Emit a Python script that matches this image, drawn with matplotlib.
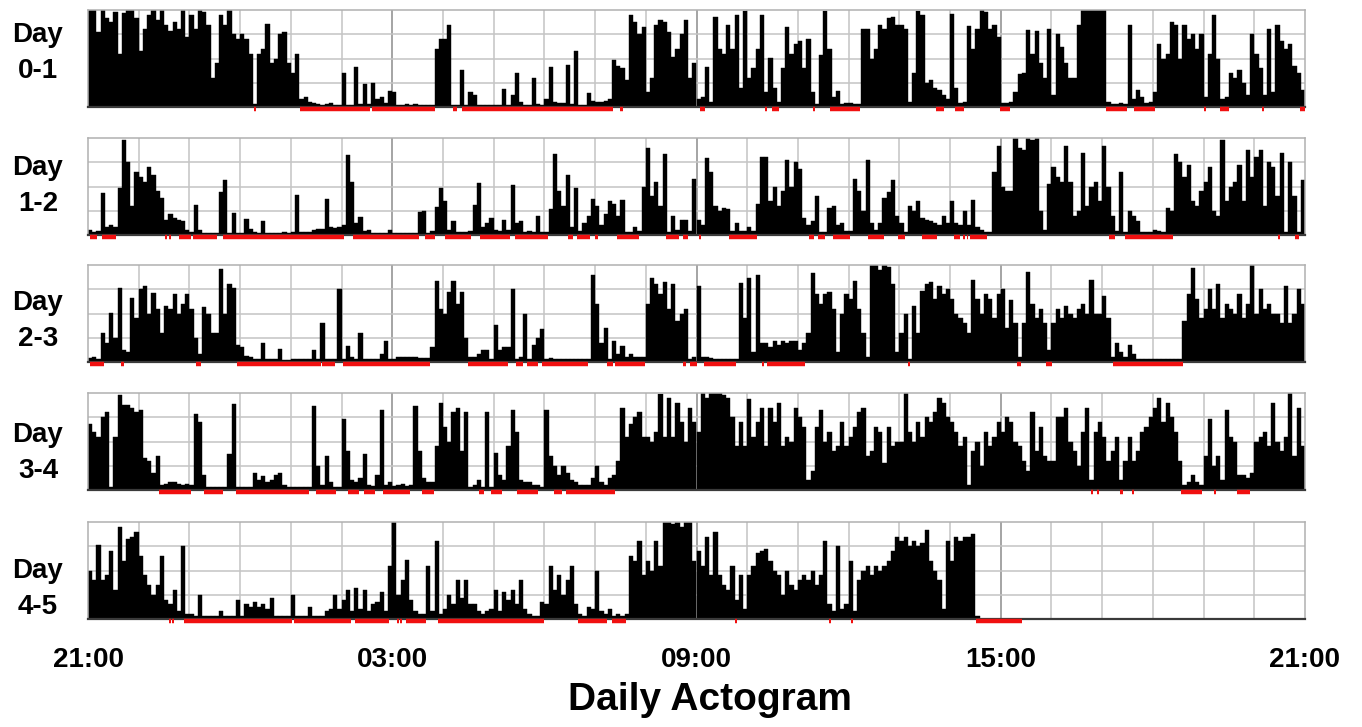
import matplotlib
matplotlib.use('Agg')
import matplotlib.pyplot as plt
import numpy as np

plt.rcParams['font.family'] = ['Liberation Sans', 'DejaVu Sans']

# activity counts in 5-minute bins (percent of full scale), starting at 21:00
day01 = [
    100, 100, 77, 100, 92, 88, 98, 55, 97, 100, 100, 92,
    58, 80, 95, 100, 90, 100, 85, 78, 88, 80, 100, 72,
    95, 80, 100, 98, 85, 30, 45, 95, 85, 100, 75, 70,
    75, 70, 55, 3, 55, 60, 86, 45, 50, 75, 77, 45,
    35, 55, 8, 10, 5, 4, 3, 2, 3, 4, 2, 2,
    35, 2, 2, 41, 3, 24, 3, 25, 8, 10, 4, 17,
    15, 2, 2, 3, 2, 3, 2, 2, 2, 2, 60, 70,
    70, 85, 2, 2, 38, 2, 15, 12, 2, 2, 2, 2,
    2, 2, 19, 2, 12, 35, 5, 2, 2, 30, 3, 2,
    8, 41, 5, 4, 4, 43, 3, 58, 2, 2, 14, 6,
    5, 5, 6, 8, 48, 42, 40, 28, 95, 88, 75, 82,
    15, 30, 85, 90, 88, 77, 52, 60, 75, 90, 30, 45,
    8, 10, 41, 5, 93, 60, 55, 85, 60, 95, 20, 99,
    30, 40, 60, 95, 15, 51, 20, 5, 40, 82, 55, 65,
    68, 40, 70, 15, 3, 54, 99, 60, 10, 17, 3, 4,
    4, 3, 3, 80, 80, 50, 60, 85, 80, 92, 93, 85,
    85, 80, 5, 35, 99, 95, 25, 28, 20, 18, 12, 8,
    96, 20, 4, 5, 84, 60, 80, 100, 98, 80, 85, 72,
    4, 4, 5, 15, 34, 35, 79, 55, 78, 45, 30, 80,
    12, 75, 62, 45, 30, 30, 85, 100, 100, 100, 100, 100,
    100, 5, 3, 3, 4, 3, 85, 8, 18, 10, 4, 5,
    15, 65, 50, 55, 88, 85, 50, 85, 70, 75, 60, 75,
    10, 55, 95, 50, 8, 10, 35, 30, 38, 25, 12, 75,
    55, 40, 12, 80, 15, 85, 68, 60, 65, 42, 35, 18,
]
day12 = [
    5, 3, 4, 43, 8, 10, 8, 48, 98, 75, 30, 65,
    60, 55, 70, 62, 45, 38, 15, 22, 18, 15, 14, 5,
    3, 31, 5, 2, 2, 2, 2, 44, 57, 2, 23, 2,
    2, 16, 6, 3, 2, 14, 2, 2, 2, 2, 3, 2,
    3, 41, 3, 3, 3, 5, 6, 6, 37, 8, 7, 8,
    10, 82, 55, 12, 19, 4, 5, 2, 2, 2, 2, 5,
    2, 2, 2, 2, 2, 2, 24, 25, 2, 4, 29, 48,
    35, 5, 14, 3, 3, 3, 4, 31, 54, 8, 12, 18,
    5, 4, 15, 5, 52, 12, 14, 3, 4, 3, 20, 3,
    3, 27, 84, 45, 30, 62, 8, 48, 4, 12, 20, 37,
    30, 10, 22, 35, 32, 20, 36, 3, 3, 8, 4, 50,
    90, 40, 55, 30, 83, 3, 20, 5, 15, 15, 4, 58,
    15, 10, 79, 65, 30, 25, 28, 27, 4, 12, 4, 4,
    8, 4, 32, 80, 80, 35, 50, 30, 45, 77, 50, 75,
    68, 18, 10, 14, 40, 3, 3, 28, 30, 10, 12, 4,
    4, 58, 45, 25, 77, 12, 5, 12, 38, 44, 57, 20,
    12, 3, 30, 25, 35, 18, 15, 14, 12, 10, 20, 12,
    35, 12, 10, 25, 10, 36, 8, 5, 3, 3, 65, 92,
    50, 45, 45, 100, 90, 88, 100, 98, 100, 25, 5, 53,
    70, 60, 55, 92, 55, 20, 25, 85, 30, 50, 55, 35,
    92, 50, 20, 4, 65, 3, 25, 20, 14, 3, 3, 3,
    5, 4, 3, 28, 25, 83, 75, 60, 72, 35, 30, 45,
    55, 70, 25, 20, 98, 35, 50, 55, 72, 35, 88, 60,
    80, 88, 30, 75, 70, 40, 85, 3, 75, 40, 3, 57,
]
day23 = [
    4, 5, 3, 30, 20, 51, 25, 76, 12, 10, 66, 45,
    75, 78, 50, 71, 55, 30, 58, 55, 70, 50, 60, 70,
    55, 25, 8, 57, 50, 30, 30, 96, 50, 80, 76, 18,
    15, 6, 5, 3, 3, 20, 3, 3, 3, 13, 2, 2,
    3, 3, 3, 3, 3, 12, 3, 40, 3, 3, 3, 75,
    3, 16, 5, 3, 30, 3, 3, 3, 3, 8, 22, 3,
    3, 5, 5, 5, 5, 5, 4, 4, 4, 15, 84, 55,
    50, 72, 83, 60, 72, 25, 5, 5, 8, 12, 12, 3,
    38, 12, 15, 15, 75, 3, 5, 50, 3, 18, 25, 34,
    3, 4, 3, 3, 3, 3, 3, 3, 3, 3, 3, 90,
    60, 20, 35, 3, 22, 8, 16, 5, 8, 5, 5, 5,
    60, 87, 80, 70, 82, 55, 80, 42, 50, 55, 3, 5,
    78, 5, 5, 4, 3, 3, 3, 3, 3, 3, 81, 45,
    87, 10, 90, 20, 20, 15, 22, 18, 22, 20, 22, 22,
    12, 20, 30, 92, 70, 60, 70, 72, 55, 10, 50, 70,
    65, 84, 55, 30, 5, 100, 100, 95, 100, 98, 80, 10,
    30, 50, 3, 58, 30, 73, 80, 82, 65, 78, 70, 75,
    65, 50, 45, 40, 30, 85, 65, 50, 70, 65, 45, 70,
    75, 35, 64, 40, 5, 40, 93, 60, 45, 55, 40, 12,
    40, 55, 45, 58, 50, 45, 55, 60, 50, 85, 50, 50,
    68, 45, 5, 20, 10, 5, 18, 8, 3, 3, 3, 3,
    3, 3, 3, 3, 3, 3, 3, 42, 70, 97, 65, 45,
    55, 75, 55, 80, 45, 60, 55, 50, 70, 45, 60, 100,
    50, 75, 55, 60, 50, 50, 40, 78, 40, 50, 75, 60,
]
day34 = [
    68, 60, 55, 75, 80, 3, 55, 98, 88, 88, 85, 80,
    82, 33, 30, 18, 35, 5, 6, 8, 8, 6, 5, 6,
    5, 78, 70, 15, 3, 3, 3, 3, 3, 37, 89, 3,
    3, 3, 3, 18, 10, 14, 8, 10, 15, 18, 5, 3,
    3, 3, 3, 3, 3, 87, 25, 5, 35, 8, 3, 3,
    73, 40, 10, 8, 12, 37, 5, 4, 15, 82, 5, 8,
    4, 5, 6, 4, 5, 87, 40, 12, 8, 8, 45, 90,
    65, 50, 80, 85, 40, 80, 3, 5, 10, 3, 80, 3,
    38, 15, 10, 45, 82, 60, 10, 8, 8, 5, 5, 3,
    82, 35, 25, 15, 25, 18, 10, 8, 5, 5, 5, 12,
    25, 8, 5, 12, 15, 30, 85, 55, 68, 75, 80, 55,
    55, 50, 60, 99, 55, 95, 55, 90, 70, 50, 85, 70,
    60, 100, 95, 100, 100, 100, 98, 95, 75, 45, 70, 45,
    94, 55, 70, 85, 45, 85, 70, 90, 45, 55, 50, 85,
    75, 65, 10, 20, 65, 82, 50, 60, 40, 45, 70, 45,
    55, 65, 80, 85, 35, 40, 65, 60, 28, 65, 45, 50,
    50, 100, 60, 50, 70, 55, 75, 70, 80, 95, 90, 75,
    70, 60, 45, 55, 5, 40, 50, 25, 60, 45, 55, 70,
    60, 75, 70, 50, 45, 30, 20, 80, 40, 65, 35, 30,
    30, 75, 75, 85, 50, 40, 25, 60, 85, 10, 60, 70,
    55, 30, 40, 55, 10, 30, 55, 30, 40, 60, 65, 75,
    85, 95, 70, 90, 75, 60, 30, 5, 8, 15, 8, 5,
    35, 73, 25, 35, 10, 82, 55, 50, 15, 15, 12, 18,
    50, 55, 60, 45, 90, 50, 40, 55, 100, 35, 85, 45,
]
day45 = [
    50, 40, 76, 40, 45, 70, 30, 95, 60, 82, 85, 90,
    65, 45, 35, 25, 35, 65, 20, 15, 30, 8, 75, 5,
    5, 3, 25, 3, 3, 3, 3, 8, 3, 3, 3, 20,
    3, 15, 12, 18, 12, 15, 10, 22, 3, 3, 3, 3,
    25, 3, 3, 3, 12, 3, 3, 3, 8, 10, 25, 10,
    20, 30, 8, 32, 10, 30, 8, 15, 18, 28, 8, 55,
    100, 25, 40, 61, 20, 8, 5, 5, 55, 8, 80, 5,
    10, 25, 15, 40, 22, 40, 15, 15, 8, 5, 8, 10,
    30, 8, 28, 20, 30, 15, 40, 10, 5, 3, 3, 18,
    15, 55, 30, 45, 25, 40, 55, 15, 5, 3, 12, 10,
    50, 8, 5, 10, 3, 5, 3, 5, 65, 60, 80, 45,
    60, 50, 80, 55, 100, 100, 98, 100, 95, 100, 100, 60,
    70, 55, 85, 45, 90, 45, 35, 30, 55, 20, 45, 10,
    45, 55, 68, 70, 72, 60, 50, 45, 25, 50, 35, 30,
    40, 45, 40, 50, 35, 45, 80, 15, 8, 75, 10, 15,
    60, 8, 40, 50, 55, 45, 55, 50, 55, 60, 70, 85,
    80, 85, 75, 80, 75, 78, 92, 60, 50, 40, 10, 80,
    60, 85, 80, 85, 85, 88, 3,
]

# rest periods (hours after 21:00)
rest01 = [(3.27, 3.31), (4.18, 5.56), (5.6, 6.85), (7.2, 7.27), (7.37, 10.36),
          (10.5, 10.56), (12.07, 12.17), (13.35, 13.4), (13.48, 13.62),
          (14.29, 14.33), (14.64, 15.23), (16.72, 16.88), (17.1, 17.28),
          (17.99, 18.19), (20.08, 20.49), (20.63, 21.05), (22.0, 22.05),
          (22.32, 22.5), (23.15, 23.19), (23.9, 24.0)]
rest12 = [(0.03, 0.17), (0.28, 0.55), (1.52, 1.56), (1.6, 1.63), (1.8, 2.03),
          (2.08, 2.55), (2.66, 5.04), (5.22, 6.52), (6.64, 6.85), (7.04, 7.56),
          (7.73, 8.32), (8.42, 9.08), (9.47, 9.57), (9.65, 9.9), (10.0, 10.06),
          (10.43, 10.87), (11.4, 11.66), (11.74, 11.84), (12.04, 12.08),
          (12.65, 13.19), (14.21, 14.32), (14.39, 14.54), (14.7, 15.03),
          (15.39, 15.69), (15.98, 16.11), (16.44, 16.74), (17.07, 17.2),
          (17.25, 17.29), (17.33, 17.36), (17.4, 17.73), (20.13, 20.26),
          (20.46, 21.4), (23.46, 23.5), (23.81, 23.88)]
rest23 = [(0.04, 0.31), (0.65, 0.71), (2.13, 2.23), (2.93, 4.59), (4.61, 4.87),
          (5.02, 6.74), (7.5, 8.28), (8.44, 8.57), (8.66, 8.88), (8.95, 9.87),
          (10.23, 10.35), (10.39, 10.99), (11.74, 11.8), (11.87, 12.0),
          (12.14, 12.77), (13.3, 13.34), (13.4, 14.14), (16.17, 16.21),
          (18.32, 18.39), (18.9, 19.02), (20.21, 21.6)]
rest34 = [(1.41, 2.03), (2.29, 2.66), (2.91, 4.35), (4.49, 4.9), (5.12, 5.35),
          (5.45, 5.66), (5.82, 6.35), (6.59, 6.82), (7.71, 7.81), (7.95, 8.16),
          (8.46, 8.88), (9.18, 9.35), (9.43, 10.39), (19.78, 19.82),
          (19.9, 19.94), (20.35, 20.42), (20.58, 20.62), (21.56, 21.96),
          (22.2, 22.24), (22.65, 22.92)]
rest45 = [(1.6, 1.64), (1.66, 1.7), (1.9, 4.02), (4.06, 5.18), (5.26, 5.94),
          (6.1, 6.14), (6.15, 6.19), (6.27, 6.66), (6.91, 9.0), (9.66, 10.23),
          (10.33, 10.6), (12.75, 12.79), (14.62, 14.66), (15.05, 15.09),
          (17.51, 18.42)]

day_labels = ['Day\n0-1', 'Day\n1-2', 'Day\n2-3', 'Day\n3-4', 'Day\n4-5']
tick_hours = [0, 6, 12, 18, 24]
tick_labels = ['21:00', '03:00', '09:00', '15:00', '21:00']

days = [day01, day12, day23, day34, day45]
rests = [rest01, rest12, rest23, rest34, rest45]

W, H = 1362, 727
fig = plt.figure(figsize=(W / 100, H / 100), dpi=100)
baselines = [107, 235, 362, 490, 619]
label_y = [53, 186, 321, 453, 589]   # pixel centres of the day labels
panel_h = 97

for i in range(5):
    ax = fig.add_axes([88 / W, 1 - baselines[i] / H, 1217 / W, panel_h / H])
    vals = days[i]
    t = np.arange(len(vals)) / 12.0
    ax.bar(t, vals, width=1 / 12.0, align='edge', color='black',
           edgecolor='black', linewidth=0.3, zorder=2)

    for h in range(1, 24):
        c = '#8c8c8c' if h % 6 == 0 else '#c4c4c4'
        ax.axvline(h, color=c, lw=1.1, zorder=0)
    for v in [25, 50, 75]:
        ax.axhline(v, color='#c4c4c4', lw=1.1, zorder=0)

    for s, e in rests[i]:
        ax.plot([s, e], [-1.8, -1.8], color='#f01010', lw=3.2,
                solid_capstyle='butt', clip_on=False, zorder=5)

    ax.set_xlim(0, 24)
    ax.set_ylim(0, 100)
    for side in ['top', 'left', 'right']:
        ax.spines[side].set_color('#b0b0b0')
        ax.spines[side].set_linewidth(1.1)
    ax.spines['bottom'].set_color('#3a3a3a')
    ax.spines['bottom'].set_linewidth(1.6)
    ax.set_yticks([])

    if i == 4:
        ax.set_xticks(tick_hours, tick_labels)
        ax.tick_params(axis='x', length=0, pad=20, labelsize=20)
        for lab in ax.get_xticklabels():
            lab.set_fontweight('bold')
    else:
        ax.set_xticks([])

    fig.text(38 / W, 1 - label_y[i] / H, day_labels[i], ha='center',
             va='center', fontsize=20, fontweight='bold', linespacing=1.5)

fig.text(710 / W, 1 - 700 / H, 'Daily Actogram', ha='center', va='center',
         fontsize=28, fontweight='bold')

fig.savefig('out.png', dpi=100)
